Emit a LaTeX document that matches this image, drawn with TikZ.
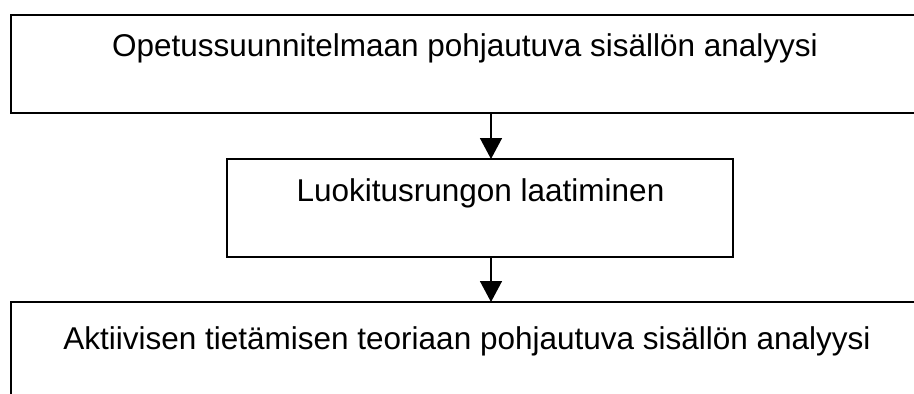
\documentclass[tikz,border=0pt]{standalone}
\usepackage{fontspec}
\setmainfont{Liberation Sans}
\usetikzlibrary{arrows.meta}
\begin{document}
\begin{tikzpicture}[x=1pt, y=-1pt,
  stagebox/.style={draw=black, line width=1.5pt, rectangle, inner sep=0pt, outer sep=0pt},
  stagetext/.style={anchor=base, inner sep=0pt, font=\fontsize{31.5}{36}\selectfont},
  flow/.style={line width=1.5pt, -{Triangle[width=22pt, length=21pt]}}]
  \useasboundingbox (0,0) rectangle (914,394);
  \clip (0,0) rectangle (914,394);
  % process stages (outer ones run past the page edge)
  \node[stagebox, minimum width=929pt, minimum height=98pt] (box1) at (475.5,64) {};
  \node[stagebox, minimum width=506pt, minimum height=98pt] (box2) at (480,208) {};
  \node[stagebox, minimum width=929pt, minimum height=128pt] (box3) at (475.5,366) {};
  % labels
  \node[stagetext] (t1) at (465,56) {Opetussuunnitelmaan pohjautuva sisällön analyysi};
  \node[stagetext] (t2) at (480.5,201) {Luokitusrungon laatiminen};
  \node[stagetext] (t3) at (467,349) {Aktiivisen tietämisen teoriaan pohjautuva sisällön analyysi};
  % connectors run down a common vertical line
  \coordinate (axis) at (491,0);
  \draw[flow] (axis |- box1.south) -- (axis |- box2.north);
  \draw[flow] (axis |- box2.south) -- (axis |- box3.north);
\end{tikzpicture}
\end{document}
